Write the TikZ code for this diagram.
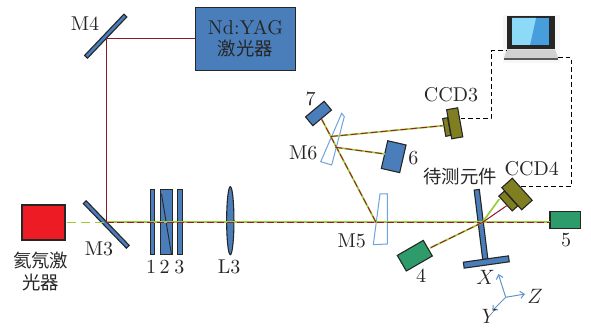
\documentclass[tikz,border=0pt]{standalone}
\usepackage{fontspec}
\setmainfont{lmroman10-regular}[Extension=.otf]
\newfontfamily\cjk{Noto Sans CJK SC}[Scale=0.92]
\usepackage{tikz}
\usetikzlibrary{arrows.meta, shapes.geometric}
\definecolor{optblue}{HTML}{4A7EBB}
\definecolor{wedgeblue}{HTML}{6FA3DC}
\definecolor{laserred}{HTML}{ED1C24}
\definecolor{ccdolive}{HTML}{7F7F22}
\definecolor{boxgreen}{HTML}{2E9B6B}
\definecolor{beamgreen}{HTML}{9CCB3B}
\definecolor{beamred}{HTML}{981B2E}
\definecolor{edgedark}{HTML}{262626}
\begin{document}
\begin{tikzpicture}[x=1pt, y=-1pt,
  part/.style = {draw=edgedark, line width=1.1pt, inner sep=0pt, minimum width=#1},
  optic/.style = {part=#1, fill=optblue},
  ccdbox/.style = {part=#1, fill=ccdolive},
  srcbox/.style = {part=#1, fill=boxgreen},
  wedge/.style = {draw=wedgeblue, line width=1pt, fill=white},
  grbeam/.style = {color=beamgreen, line width=1.7pt},
  rdbeam/.style = {color=beamred, line width=0.9pt, dash pattern=on 7pt off 3pt},
  pumpbeam/.style = {color=beamred!90!black, line width=1pt},
  cable/.style = {color=black, line width=0.9pt, dash pattern=on 4.5pt off 3pt},
  axisarr/.style = {-{Straight Barb[length=4pt,width=7pt]}, color=wedgeblue!90!black, line width=1pt},
  lbl/.style = {font=\fontsize{20}{21}\selectfont, color=edgedark, inner sep=0pt, align=center},
]
\useasboundingbox (0,0) rectangle (591,328);
% sources and mirrors
\node[optic=100pt, minimum height=63pt, font=\fontsize{20}{21}\selectfont, align=center, inner sep=0pt, text=edgedark] (yag) at (245.5,39) {Nd:YAG\\[0pt]{\cjk 激光器}};
\node[part=43pt, minimum height=35pt, fill=laserred] (hene) at (43.5,222.5) {};
\node[optic=57pt, minimum height=4pt, rotate=46.4] (m4) at (105.7,36.2) {};
\node[optic=62pt, minimum height=4pt, rotate=-46] (m3) at (106.3,224.5) {};
\node[optic=4.3pt, minimum height=65pt] (pl1) at (152.2,222.3) {};
\node[optic=12pt, minimum height=65pt] (pl2) at (166.3,222.3) {};
\node[optic=4.3pt, minimum height=65pt] (pl3) at (180,222.3) {};
\draw[edgedark, line width=0.9pt] (161.5,194) -- (171.5,254.5);
\node[optic=7.3pt, minimum height=68pt, ellipse] (l3) at (230.3,220.7) {};
% wedges
\draw[wedge] (341.7,113.3) -- (344.3,116.7) -- (331.7,165) -- (320.7,161.7) -- cycle;
\draw[wedge] (380,194) -- (387.3,194) -- (387.3,244) -- (373.3,244.7) -- cycle;
% detectors and second sources
\node[optic=24.3pt, minimum height=11.4pt, rotate=40] (src7) at (318.5,113.5) {};
\node[optic=18.8pt, minimum height=28.4pt, rotate=-13] (src6) at (393.7,156.7) {};
\node[srcbox=30pt, minimum height=18pt, rotate=30] (src4) at (414.8,255.7) {};
\node[srcbox=30.7pt, minimum height=17pt] (src5) at (565.3,220.2) {};
\node[ccdbox=5pt, minimum height=18pt, rotate=10] (ccd3a) at (446.7,127) {};
\node[ccdbox=11.2pt, minimum height=29.5pt, rotate=10] (ccd3) at (454.7,123.3) {};
\node[ccdbox=20pt, minimum height=7.5pt, rotate=-48] (ccd4a) at (508.3,201) {};
\node[ccdbox=29.7pt, minimum height=14.1pt, rotate=-48] (ccd4) at (517,194) {};
% sample
\node[optic=5.2pt, minimum height=70pt, rotate=7] (smp) at (481,224.5) {};
\node[optic=45.5pt, minimum height=6pt, rotate=8] (smpbase) at (486.3,262) {};
% beam points
\coordinate (m3p) at (106.7,222.3);
\coordinate (m4p) at (106.7,39);
\coordinate (m5p) at (376,222.3);
\coordinate (m6a) at (330.7,136.5);
\coordinate (m6b) at (335.5,147.3);
\coordinate (smpp) at (482.3,222.5);
\coordinate (in7) at (321.7,119.3);
\coordinate (in3) at (442.7,125.7);
\coordinate (in6) at (385,154);
\coordinate (in4) at (430,248);
\coordinate (in5) at (550,222.3);
\coordinate (in4g) at (499.3,199);
\coordinate (in4r) at (506.7,205.7);
% pump beam
\draw[pumpbeam] (yag.west |- m4p) -- (m4p) -- (m3p);
\draw[grbeam, line width=1.2pt, dash pattern=on 9pt off 5pt] (67,222.3) -- (m3p);
% green under, red over
\foreach \a/\b in {m3p/in5, m5p/in7, m6a/in3, m6b/in6, smpp/in4} {
  \draw[grbeam] (\a) -- (\b);
  \draw[rdbeam] (\a) -- (\b);
}
\draw[grbeam] (smpp) -- (in4g);
\draw[pumpbeam] (smpp) -- (in4r);
% computer
\fill[black!3] (503,15) rectangle (560,63);
\fill[black!85] (507,16) rectangle (555,49);
\fill[cyan!70!blue!75] (512,18) rectangle (549,45);
\fill[cyan!45] (512,18) -- (536,18) -- (530,45) -- (512,45) -- cycle;
\fill[black!18] (507,49.5) -- (555,49.5) -- (558,58) -- (504,58) -- cycle;
\fill[black!65] (503.5,58.5) rectangle (558,60.5);
\coordinate (pcl) at (507,50.7);
\coordinate (pcr) at (558,57.7);
\draw[cable] (ccd3.east |- 0,118.3) -- (491,118.3) -- (491,50.7) -- (pcl);
\draw[cable] (pcr) -- (571,57.7) -- (571,186.7) -- (518.3,186.7);
% axes
\coordinate (ax0) at (505.7,297.3);
\coordinate (axz) at (525,294);
\coordinate (axx) at (498.3,274);
\coordinate (axy) at (492.3,310.7);
\draw[axisarr] (ax0) -- (axz);
\draw[axisarr] (ax0) -- (axx);
\draw[axisarr] (ax0) -- (axy);
% labels
\node[lbl] (lblm4) at (85,24) {M4};
\node[lbl] (lblm3) at (99,249) {M3};
\node[lbl] (lblhene) at (40.7,271) {\cjk 氦氖激\\[1pt]\cjk 光器};
\node[lbl] (lbl1) at (151,267) {1};
\node[lbl] (lbl2) at (164.5,267) {2};
\node[lbl] (lbl3) at (179.3,267) {3};
\node[lbl] (lbll3) at (229,267) {L3};
\node[lbl] (lblm6) at (303.3,153.3) {M6};
\node[lbl] (lblm5) at (351.7,240.7) {M5};
\node[lbl] (lbl7) at (310.7,99.3) {7};
\node[lbl] (lbl6) at (413.3,158.3) {6};
\node[lbl] (lbl4) at (421,275.7) {4};
\node[lbl] (lbl5) at (566,239.7) {5};
\node[lbl] (lblccd3) at (451,95) {CCD3};
\node[lbl] (lblccd4) at (531.7,169) {CCD4};
\node[lbl] (lblsmp) at (460,176.7) {\cjk 待测元件};
\node[lbl] (lblx) at (485.7,277.3) {$X$};
\node[lbl] (lbly) at (490,316.5) {$Y$};
\node[lbl] (lblz) at (535,296.3) {$Z$};
\end{tikzpicture}
\end{document}
